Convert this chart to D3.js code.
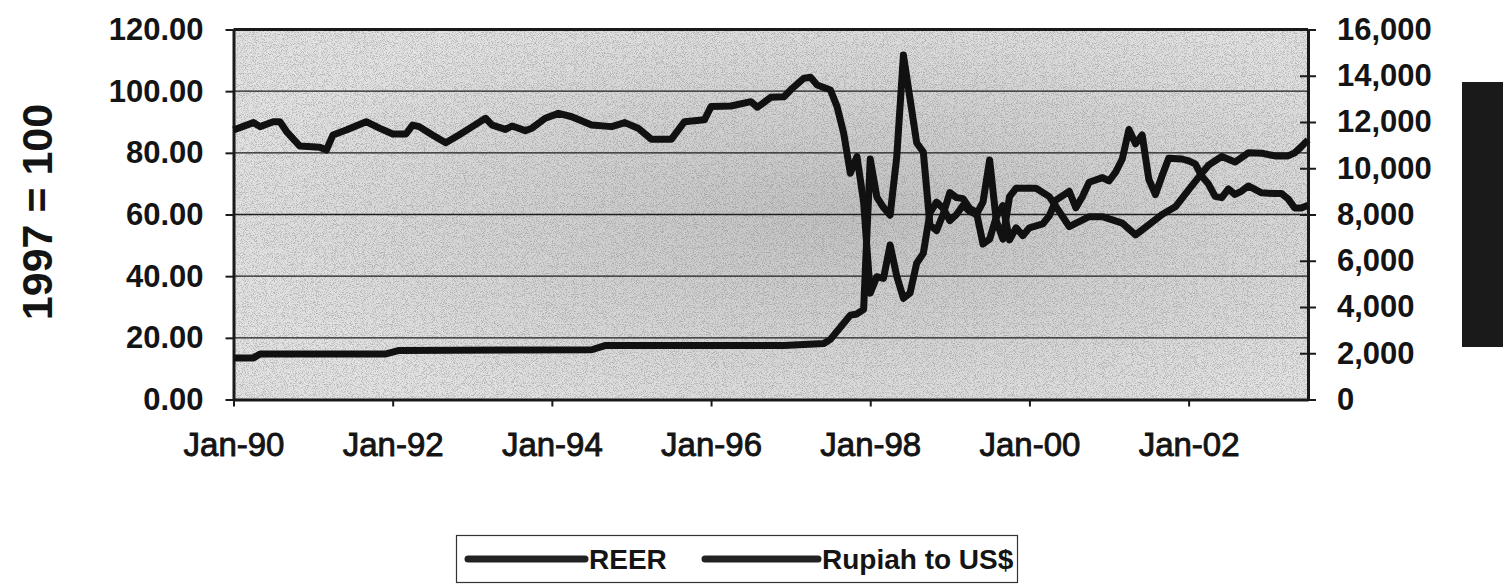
<html>
<head>
<script src="https://cdn.jsdelivr.net/npm/d3@7"></script>
<style>
    body { margin: 0; background: #fff; }
    text { font-family: "Liberation Sans", Arial, sans-serif; fill: #141414; }
</style>
</head>
<body>
<script>
var reerDates = ["1990-01","1990-04","1990-05","1990-07","1990-08","1990-09","1990-11","1991-02","1991-03","1991-04",
    "1991-06","1991-09","1991-11","1992-01","1992-03","1992-04","1992-05","1992-07","1992-09","1992-11",
    "1993-01","1993-03","1993-04","1993-06","1993-07","1993-09","1993-10","1993-12","1994-02","1994-04",
    "1994-07","1994-10","1994-12","1995-02","1995-04","1995-07","1995-09","1995-12","1996-01","1996-04",
    "1996-07","1996-08","1996-10","1996-12","1997-01","1997-03","1997-04","1997-05","1997-07","1997-08",
    "1997-09","1997-10","1997-11","1997-12","1998-01","1998-02","1998-03","1998-04","1998-05","1998-06",
    "1998-07","1998-08","1998-09","1998-10","1998-11","1998-12","1999-01","1999-02","1999-03","1999-04",
    "1999-05","1999-06","1999-07","1999-08","1999-09","1999-10","1999-11","2000-02","2000-04","2000-07",
    "2000-10","2000-12","2001-03","2001-05","2001-06","2001-09","2001-11","2002-01","2002-03","2002-04",
    "2002-06","2002-08","2002-10","2002-12","2003-02","2003-04","2003-05","2003-06","2003-07"];
var reerValues = [87.4,89.8,88.5,90.1,90.1,86.9,82.2,81.8,80.9,85.8,
    87.4,90.1,88.0,86.1,86.1,89.0,88.5,85.8,83.3,85.8,
    88.5,91.2,89.0,87.6,88.7,87.2,88.0,91.2,92.8,91.7,
    89.0,88.5,89.8,88.0,84.4,84.4,90.1,90.7,95.0,95.2,
    96.6,94.8,98.0,98.2,100.4,104.2,104.5,102.0,100.4,95.0,
    86.3,73.4,78.8,64.0,34.5,39.8,39.3,50.1,40.0,32.8,
    34.5,44.2,47.4,60.5,64.0,62.0,58.0,60.0,63.0,61.0,
    60.0,64.0,77.7,58.0,52.0,65.8,68.5,68.5,65.8,56.1,
    59.3,59.3,57.2,53.4,55.0,60.0,62.5,68.0,73.4,76.0,
    78.8,77.0,80.0,79.9,79.0,79.0,80.0,82.0,84.2];

// Rupiah per US$
var rupiahDates = ["1990-01","1990-04","1990-05","1991-12","1992-02","1994-07","1994-09","1996-12","1997-06","1997-07",
    "1997-08","1997-09","1997-10","1997-11","1997-12","1998-01","1998-02","1998-03","1998-04","1998-05",
    "1998-06","1998-07","1998-08","1998-09","1998-10","1998-11","1998-12","1999-01","1999-02","1999-03",
    "1999-04","1999-05","1999-06","1999-07","1999-08","1999-09","1999-10","1999-11","1999-12","2000-01",
    "2000-03","2000-04","2000-05","2000-07","2000-08","2000-09","2000-10","2000-12","2001-01","2001-02",
    "2001-03","2001-04","2001-05","2001-06","2001-07","2001-08","2001-09","2001-10","2001-12","2002-01",
    "2002-02","2002-03","2002-04","2002-05","2002-06","2002-07","2002-08","2002-09","2002-10","2002-12",
    "2003-02","2003-03","2003-04","2003-05","2003-06","2003-07"];
var rupiahValues = [1800,1800,1970,1970,2120,2150,2330,2330,2420,2600,
    2950,3300,3650,3700,3900,10400,8750,8300,7970,10500,
    14900,13000,11100,10700,7550,7300,8025,8950,8730,8685,
    8260,8105,6726,6935,7895,8386,6900,7425,7085,7425,
    7590,7945,8620,9003,8290,8780,9395,9595,9450,9835,
    10400,11675,11058,11440,9525,8865,9675,10435,10400,10320,
    10189,9655,9316,8785,8730,9108,8867,9015,9233,8940,
    8905,8908,8675,8279,8285,8400];

var xTickMonths = [0, 24, 48, 72, 96, 120, 144];
var xTickLabels = ["Jan-90","Jan-92","Jan-94","Jan-96","Jan-98","Jan-00","Jan-02"];
var leftTicks = [0, 20, 40, 60, 80, 100, 120];
var rightTicks = [0, 2000, 4000, 6000, 8000, 10000, 12000, 14000, 16000];
var seriesNames = ["REER", "Rupiah to US$"];

// months since Jan-90
var parseMonth = d3.timeParse("%Y-%m");
monthIndex = function(s)
{
    var d = parseMonth(s);
    return (d.getFullYear() - 1990) * 12 + d.getMonth();
}

var reer = reerDates.map(function(d, i) { return {m: monthIndex(d), v: reerValues[i]}; });
var rupiah = rupiahDates.map(function(d, i) { return {m: monthIndex(d), v: rupiahValues[i]}; });

var width = 1503,
    height = 587;
// plot box ("top" is taken by window.top, so prefix everything)
var plotL = 233.5, plotR = 1308, plotT = 29.5, plotB = 399.5;

var svg = d3.select("body").append("svg")
    .attr("width", width)
    .attr("height", height);

var x = d3.scaleLinear().domain([0, 162]).range([plotL, plotR]);
var yL = d3.scaleLinear().domain([0, 120]).range([plotB, plotT]);
var yR = d3.scaleLinear().domain([0, 16000]).range([plotB, plotT]);

var defs = svg.append("defs");

// plot background, scanned grey, darker in the middle
var grad = defs.append("radialGradient")
    .attr("id", "bg")
    .attr("cx", "0.58").attr("cy", "0.5").attr("r", "0.6");
grad.append("stop").attr("offset", "0%").attr("stop-color", "#c2c2c2");
grad.append("stop").attr("offset", "100%").attr("stop-color", "#e2e2e2");

// speckle like the scan
var grain = defs.append("filter")
    .attr("id", "grain")
    .attr("x", 0).attr("y", 0).attr("width", "100%").attr("height", "100%");
grain.append("feTurbulence")
    .attr("type", "fractalNoise")
    .attr("baseFrequency", 1.1)
    .attr("numOctaves", 2)
    .attr("seed", 7);
grain.append("feColorMatrix")
    .attr("type", "matrix")
    .attr("values", "0 0 0 0 0.15  0 0 0 0 0.15  0 0 0 0 0.15  -5 0 0 0 2.6");

svg.append("rect")
    .attr("x", plotL)
    .attr("y", plotT)
    .attr("width", plotR - plotL)
    .attr("height", plotB - plotT)
    .attr("fill", "url(#bg)");

svg.append("rect")
    .attr("x", plotL)
    .attr("y", plotT)
    .attr("width", plotR - plotL)
    .attr("height", plotB - plotT)
    .attr("filter", "url(#grain)")
    .attr("opacity", 0.35);

// gridlines
svg.append("g")
    .selectAll("line")
    .data(leftTicks.filter(function(d) { return d > 0 && d < 120; }))
    .join("line")
        .attr("x1", plotL)
        .attr("x2", plotR)
        .attr("y1", function(d) { return yL(d); })
        .attr("y2", function(d) { return yL(d); })
        .attr("stroke", "#1e1e1e")
        .attr("stroke-width", 1.3);

// frame top
svg.append("line")
    .attr("x1", plotL).attr("x2", plotR)
    .attr("y1", plotT).attr("y2", plotT)
    .attr("stroke", "#1a1a1a").attr("stroke-width", 3);

// left axis
var gL = svg.append("g")
    .attr("transform", "translate(" + plotL + ",0)")
    .call(d3.axisLeft(yL).tickValues(leftTicks).tickSize(8).tickSizeOuter(0).tickPadding(22)
        .tickFormat(d3.format(".2f")));

// right axis
var gR = svg.append("g")
    .attr("transform", "translate(" + plotR + ",0)")
    .call(d3.axisRight(yR).tickValues(rightTicks).tickSize(8).tickSizeOuter(0).tickPadding(21)
        .tickFormat(d3.format(",")));
gR.selectAll(".tick line").attr("x1", -8);

// bottom axis
var gB = svg.append("g")
    .attr("transform", "translate(0," + plotB + ")")
    .call(d3.axisBottom(x).tickValues(xTickMonths).tickSize(7).tickSizeOuter(0)
        .tickFormat(function(d, i) { return xTickLabels[i]; }));
gB.selectAll(".tick text")
    .attr("y", 56)
    .attr("dy", null)
    .attr("font-size", 33);

[gL, gR, gB].forEach(function(g)
{
    g.select(".domain").attr("stroke", "#1a1a1a").attr("stroke-width", 3);
    g.selectAll(".tick line").attr("stroke", "#1a1a1a").attr("stroke-width", 2);
    g.selectAll(".tick text")
        .attr("fill", "#141414")
        .attr("font-family", "Liberation Sans, Arial, sans-serif")
        .attr("font-weight", "bold");
});
gL.selectAll(".tick text").attr("font-size", 31);
gR.selectAll(".tick text").attr("font-size", 31);
gB.selectAll(".tick text").attr("font-weight", "normal").style("stroke", "#141414").style("stroke-width", 0.9);

// series
var lineL = d3.line()
    .x(function(d) { return x(d.m); })
    .y(function(d) { return yL(d.v); });
var lineR = d3.line()
    .x(function(d) { return x(d.m); })
    .y(function(d) { return yR(d.v); });

svg.append("path")
    .datum(rupiah)
    .attr("d", lineR)
    .attr("fill", "none")
    .attr("stroke", "#111")
    .attr("stroke-width", 7)
    .attr("stroke-linejoin", "round");

svg.append("path")
    .datum(reer)
    .attr("d", lineL)
    .attr("fill", "none")
    .attr("stroke", "#111")
    .attr("stroke-width", 7)
    .attr("stroke-linejoin", "round");

// axis title
svg.append("text")
    .attr("transform", "translate(37,212) rotate(-90)")
    .attr("text-anchor", "middle")
    .attr("dominant-baseline", "central")
    .attr("font-size", 43)
    .attr("font-weight", "bold")
    .text("1997 = 100");

// blacked out right title
svg.append("rect")
    .attr("x", 1462)
    .attr("y", 82)
    .attr("width", 41)
    .attr("height", 265)
    .attr("fill", "#1a1a1a");

// legend
var legend = svg.append("g");
legend.append("rect")
    .attr("x", 456.5)
    .attr("y", 535.5)
    .attr("width", 561)
    .attr("height", 47)
    .attr("fill", "none")
    .attr("stroke", "#333")
    .attr("stroke-width", 1.2);

var legendItems = [
    {name: seriesNames[0], x1: 468, x2: 585, tx: 589},
    {name: seriesNames[1], x1: 705, x2: 818, tx: 822}
];
legendItems.forEach(function(it)
{
    legend.append("line")
        .attr("x1", it.x1).attr("x2", it.x2)
        .attr("y1", 559).attr("y2", 559)
        .attr("stroke", "#222")
        .attr("stroke-width", 7)
        .attr("stroke-linecap", "round");
    legend.append("text")
        .attr("x", it.tx)
        .attr("y", 569)
        .attr("font-size", 28)
        .attr("font-weight", "bold")
        .text(it.name);
});
</script>
</body>
</html>
